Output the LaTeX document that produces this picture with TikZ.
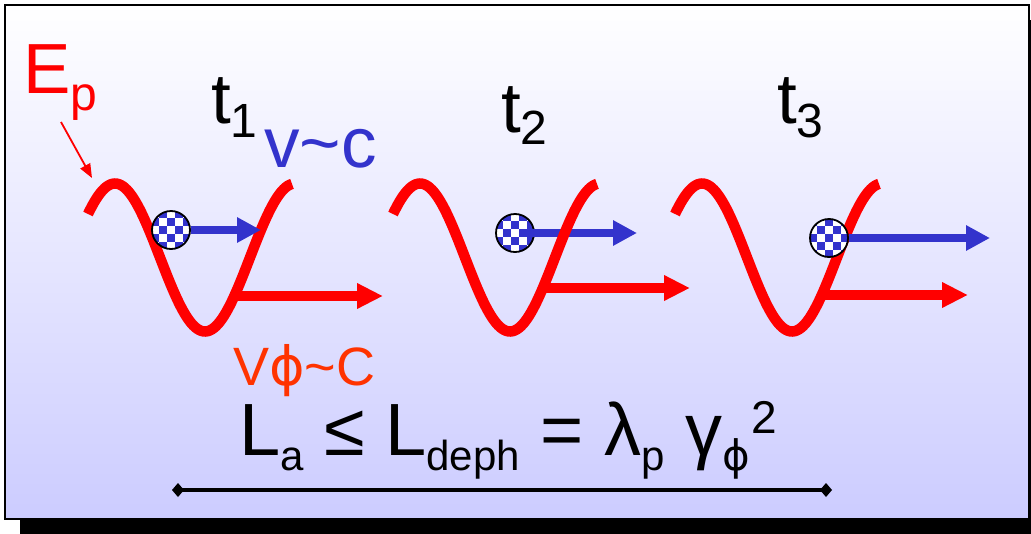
\documentclass[tikz,border=0pt]{standalone}
\usepackage{fontspec}
\setmainfont{Liberation Sans}
\newfontfamily\dvs{DejaVu Sans}
\usetikzlibrary{arrows.meta}
\definecolor{lav}{RGB}{204,204,255}
\definecolor{vblue}{RGB}{51,51,204}
\definecolor{vorange}{RGB}{255,51,0}
\newcommand\fsz[1]{\fontsize{#1}{#1}\selectfont}
\newcommand\lowr[3]{\raisebox{-#1pt}{\fsz{#2}#3}}
\newcommand\wavecurve[1]{\draw[wave] plot[domain=-27:177,samples=100] ({#1+\x},{257.5-74*cos(2*\x)});}
\begin{document}
\begin{tikzpicture}[x=1pt,y=-1pt,
  wave/.style={red, line width=10.5pt, line cap=butt},
  txt/.style={inner sep=0pt, anchor=base west},
  checker/.style={circle, draw=black, line width=1.8pt, fill=white,
    minimum size=38pt, inner sep=0pt,
    path picture={
      \foreach \i in {-3,...,3}{\foreach \j in {-3,...,3}{
        \pgfmathtruncatemacro\k{mod(\i+\j+10,2)}
        \ifnum\k=#1\relax
          \fill[vblue,shift={(path picture bounding box.center)}]
            (\i*8-4,\j*8-4) rectangle +(8,8);
        \fi}}}},
  bluearrow/.style={vblue, line width=8pt, -{Triangle[length=24pt,width=24pt]}},
  redarrow/.style={red, line width=10pt, -{Triangle[length=26pt,width=24pt]}},
  thinarrow/.style={red, line width=1.8pt, -{Triangle[length=14pt,width=11pt]}},
  rule/.style={black, line width=4.5pt, {Diamond[length=12pt,width=14pt]}-{Diamond[length=12pt,width=14pt]}}
]
\useasboundingbox (0,0) rectangle (1031,533);
% shadow and panel
\fill[black] (20,20) rectangle (1045,540);
\shade[top color=white, bottom color=lav, draw=black, line width=2pt] (5,5) rectangle (1029,519);

% group 1
\wavecurve{115}
\node[checker=1] (p1) at (171,230) {};
\coordinate (b1t) at (261,230);
\draw[bluearrow] (p1) -- (b1t);
\coordinate (r1s) at (238,296);
\coordinate (r1t) at (383,296);
\draw[redarrow] (r1s) -- (r1t);

% group 2
\node[checker=1] (p2) at (515,233) {};
\coordinate (b2s) at (527,233);
\coordinate (b2t) at (637,233);
\draw[bluearrow] (b2s) -- (b2t);
\wavecurve{420}
\coordinate (r2s) at (545,288);
\coordinate (r2t) at (690,288);
\draw[redarrow] (r2s) -- (r2t);

% group 3
\wavecurve{702}
\node[checker=0] (p3) at (829,238) {};
\coordinate (b3t) at (990,238);
\draw[bluearrow] (p3) -- (b3t);
\coordinate (r3s) at (823,295);
\coordinate (r3t) at (968,295);
\draw[redarrow] (r3s) -- (r3t);

% labels
\node[txt, red] (Ep) at (23,93) {\fsz{71}E\lowr{17}{48}{p}};
\coordinate (epa) at (61,122);
\coordinate (epb) at (92,178);
\draw[thinarrow] (epa) -- (epb);

\node[txt] (t1) at (211,123) {\fsz{71}t\lowr{14}{48}{1}};
\node[txt] (t2) at (501,132) {\fsz{71}t\lowr{12}{48}{2}};
\node[txt] (t3) at (777,123) {\fsz{71}t\lowr{14}{48}{3}};

\node[txt, vblue] (vc) at (264,167) {\fsz{71}v\char"007E c};
\node[txt, vorange] (vphi) at (233,385) {\fsz{54}V{\dvs ϕ}\char"007E C};

\node[txt] (eq) at (239,455) {\fsz{74}L\lowr{15}{42}{a} ≤ L\lowr{15}{42}{deph} = λ\lowr{15}{42}{p} γ\lowr{15}{42}{\dvs ϕ}\hspace{2pt}\raisebox{22pt}{\fsz{46}2}};

\coordinate (dl) at (172,490);
\coordinate (dr) at (832,490);
\draw[rule] (dl) -- (dr);
\end{tikzpicture}
\end{document}
